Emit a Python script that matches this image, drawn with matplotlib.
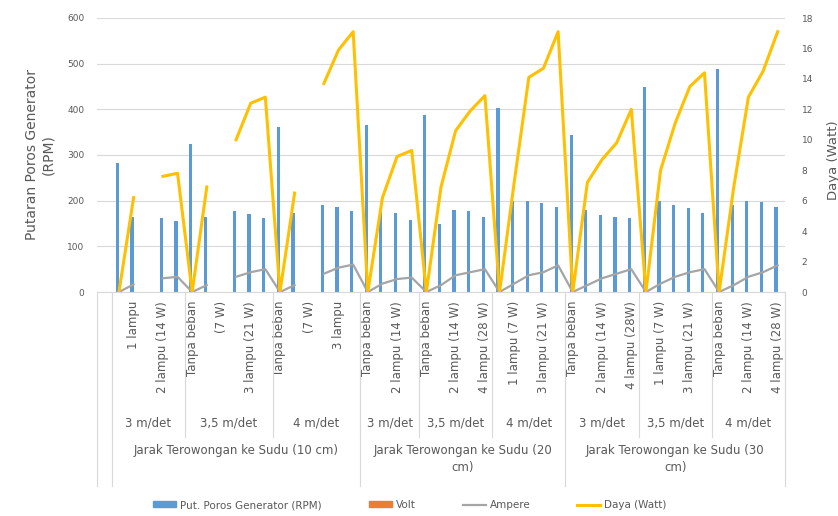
import numpy as np
import matplotlib.pyplot as plt
from matplotlib.transforms import blended_transform_factory
from matplotlib.lines import Line2D
from matplotlib.patches import Patch

nan = np.nan

# level 1: beban (first slot is an empty row of the sheet)
beban = ["",
         "Tanpa beban", "1 lampu", "(7 W)", "2 lampu (14 W)", "3 lampu (21 W)",
         "Tanpa beban", "1 lampu", "(7 W)", "2 lampu (14 W)", "3 lampu (21 W)", "4 lampu (28 W)",
         "Tanpa beban", "1 lampu", "(7 W)", "2 lampu (14 W)", "3 lampu", "4 lampu (28 W)",
         "Tanpa beban", "1 lampu (7 W)", "2 lampu (14 W)", "3 lampu (21 W)",
         "Tanpa beban", "1 lampu (7 W)", "2 lampu (14 W)", "3 lampu (21 W)", "4 lampu (28 W)",
         "Tanpa beban", "1 lampu (7 W)", "2 lampu (14 W)", "3 lampu (21 W)", "4 lampu (28 W)",
         "Tanpa beban", "1 lampu (7 W)", "2 lampu (14 W)", "3 lampu (21 W)", "4 lampu (28W)",
         "Tanpa beban", "1 lampu (7 W)", "2 lampu (14 W)", "3 lampu (21 W)", "4 lampu (28 W)",
         "Tanpa beban", "1 lampu (7 W)", "2 lampu (14 W)", "3 lampu (21 W)", "4 lampu (28 W)"]

# level 2 and 3: (label, number of rows)
kecepatan = [("", 1), ("3 m/det", 5), ("3,5 m/det", 6), ("4 m/det", 6),
             ("3 m/det", 4), ("3,5 m/det", 5), ("4 m/det", 5),
             ("3 m/det", 5), ("3,5 m/det", 5), ("4 m/det", 5)]
jarak = [("", 1), ("Jarak Terowongan ke Sudu (10 cm)", 17),
         ("Jarak Terowongan ke Sudu (20\ncm)", 14),
         ("Jarak Terowongan ke Sudu (30\ncm)", 15)]

rpm = [nan, 282, 165, nan, 161, 156, 325, 165, nan, 177, 170, 161,
       362, 172, nan, 190, 186, 178,
       365, 175, 173, 157,
       387, 150, 180, 177, 164,
       404, 200, 199, 195, 186,
       343, 180, 168, 164, 161,
       449, 200, 190, 183, 173,
       489, 190, 199, 197, 186]
# no volt bar can be seen above the axis line
volt = [nan] * len(rpm)
ampere = [nan, 0, 0.5, nan, 0.9, 1.0, 0, 0.45, nan, 1.0, 1.3, 1.5,
          0, 0.45, nan, 1.2, 1.6, 1.8,
          0, 0.55, 0.85, 0.95,
          0, 0.45, 1.1, 1.3, 1.5,
          0, 0.55, 1.1, 1.3, 1.75,
          0, 0.45, 0.9, 1.2, 1.5,
          0, 0.55, 1.0, 1.3, 1.5,
          0, 0.45, 1.0, 1.3, 1.75]
daya = [nan, 0, 6.2, nan, 7.6, 7.8, 0, 6.9, nan, 10.0, 12.4, 12.8,
        0, 6.5, nan, 13.7, 15.9, 17.1,
        0, 6.2, 8.9, 9.3,
        0, 6.9, 10.6, 11.9, 12.9,
        0, 7.2, 14.1, 14.7, 17.1,
        0, 7.2, 8.7, 9.8, 12.0,
        0, 8.0, 11.1, 13.5, 14.4,
        0, 6.9, 12.8, 14.5, 17.1]

blue, orange, gray, yellow = '#5B9BD5', '#ED7D31', '#A5A5A5', '#FFC000'
txt = '#595959'
gridc = '#D9D9D9'

W, H = 838, 516
fig = plt.figure(figsize=(W / 100, H / 100), dpi=100)
ax = fig.add_axes([97 / W, 1 - 292 / H, (785 - 97) / W, (292 - 18) / H])

x = np.arange(len(beban))
w = 0.22
ax.bar(x - w / 2, rpm, w, color=blue)
ax.bar(x + w / 2, volt, w, color=orange)
ax.set_xlim(-0.5, len(x) - 0.5)
ax.set_ylim(0, 600)
ax.set_yticks(range(0, 601, 100))
ax.set_xticks([])
ax.grid(axis='y', color=gridc, lw=0.8)
ax.set_axisbelow(True)
for s in ['left', 'right', 'top']:
    ax.spines[s].set_visible(False)
ax.spines['bottom'].set_color(gridc)
ax.tick_params(axis='y', length=0, labelsize=6.5, labelcolor=txt, pad=9)

ax2 = ax.twinx()
ax2.plot(x, ampere, color=gray, lw=1.6)
ax2.plot(x, daya, color=yellow, lw=2.2)
ax2.set_ylim(0, 18)
ax2.set_yticks(range(0, 19, 2))
for s in ['left', 'right', 'top', 'bottom']:
    ax2.spines[s].set_visible(False)
ax2.tick_params(axis='y', length=0, labelsize=6.5, labelcolor=txt, pad=12)

fig.text(40 / W, 1 - 155 / H, "Putaran Poros Generator\n(RPM)", rotation=90,
         ha='center', va='center', fontsize=10, color=txt, linespacing=1.25)
fig.text(833 / W, 1 - 160 / H, "Daya (Watt)", rotation=90,
         ha='center', va='center', fontsize=9.5, color=txt)

# multi level category axis
tr = blended_transform_factory(ax.transData, fig.transFigure)
for k in range(2, len(beban), 2):
    ax.text(k, 1 - 301 / H, beban[k], transform=tr, rotation=90, ha='center',
            va='top', fontsize=8.5, color=txt, clip_on=False)

def fy(p):
    return 1 - p / H

pos = -0.5
for lab, n in kecepatan:
    ax.text(pos + n / 2, fy(423), lab, transform=tr, ha='center', va='center',
            fontsize=8.5, color=txt, clip_on=False)
    pos += n
    fig.add_artist(Line2D([pos, pos], [fy(292), fy(437)], transform=tr,
                          color=gridc, lw=0.8))

pos = -0.5
fig.add_artist(Line2D([pos, pos], [fy(292), fy(486)], transform=tr, color=gridc, lw=0.8))
for lab, n in jarak:
    ax.text(pos + n / 2, fy(444), lab, transform=tr, ha='center', va='top',
            fontsize=8.5, color=txt, clip_on=False, linespacing=1.4)
    pos += n
    fig.add_artist(Line2D([pos, pos], [fy(292), fy(486)], transform=tr,
                          color=gridc, lw=0.8))

handles = [Patch(color=blue), Patch(color=orange),
           Line2D([], [], color=gray, lw=1.6), Line2D([], [], color=yellow, lw=2.2)]
labels = ["Put. Poros Generator (RPM)", "Volt", "Ampere", "Daya (Watt)"]
fig.legend(handles, labels, loc='center', bbox_to_anchor=(410 / W, fy(505)), ncol=4,
           frameon=False, fontsize=7.5, labelcolor=txt, handlelength=2.2,
           handleheight=0.5, columnspacing=4.5, handletextpad=0.4)

fig.savefig('out.png', dpi=100)
